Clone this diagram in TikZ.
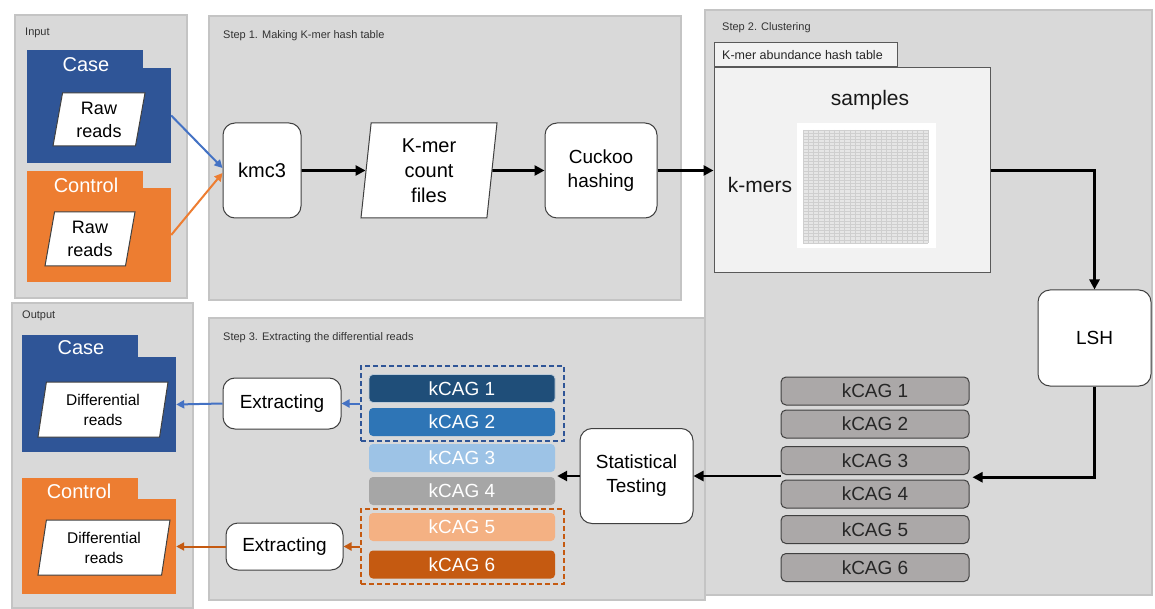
\documentclass[tikz,border=0pt]{standalone}
\usepackage{fontspec}
\setmainfont{Liberation Sans}
\usetikzlibrary{arrows.meta,shapes.geometric,calc}
\definecolor{panelgray}{HTML}{D9D9D9}
\definecolor{panelline}{HTML}{C4C4C4}
\definecolor{caseblue}{HTML}{2F5597}
\definecolor{ctrlorange}{HTML}{ED7D31}
\definecolor{arrblue}{HTML}{4472C4}
\definecolor{darkorange}{HTML}{C55A11}
\definecolor{cA}{HTML}{1F4E79}
\definecolor{cB}{HTML}{2E75B6}
\definecolor{cC}{HTML}{9DC3E6}
\definecolor{cD}{HTML}{A6A6A6}
\definecolor{cE}{HTML}{F4B183}
\definecolor{cF}{HTML}{C55A11}
\definecolor{kgray}{HTML}{ABA8A8}
\definecolor{tablefill}{HTML}{F2F2F2}
\definecolor{gridfill}{HTML}{E6E6E6}
\definecolor{gridline}{HTML}{CFCFCF}
\begin{document}
\begin{tikzpicture}[x=1pt,y=-1pt,
  panel/.style={fill=panelgray, draw=panelline, line width=2},
  plabel/.style={anchor=west, font=\fontsize{11}{13}\selectfont, text=black!80, inner sep=0},
  proc/.style={draw=black!75, fill=white, rounded corners=12, line width=1, align=center, inner sep=0, font=\fontsize{19}{24}\selectfont},
  para/.style={trapezium, trapezium left angle=75, trapezium right angle=105, trapezium stretches body, draw=black!75, fill=white, line width=1, inner sep=0, align=center},
  rawtxt/.style={font=\fontsize{18}{23}\selectfont},
  difftxt/.style={font=\fontsize{15.5}{20}\selectfont},
  foldertxt/.style={text=white, font=\fontsize{20}{24}\selectfont, inner sep=0},
  body/.style={inner sep=0, minimum width=#1},
  kcol/.style={fill=#1, rounded corners=4, minimum width=186, minimum height=28, inner sep=0, text=white, font=\fontsize{19}{22}\selectfont},
  kgr/.style={fill=kgray, draw=black!75, line width=1, rounded corners=5, minimum width=188, minimum height=28, inner sep=0, text=black!85, font=\fontsize{19}{22}\selectfont},
  blk/.style={line width=2.8, -{Triangle[length=10,width=10]}},
  thin arrow/.style={line width=2, -{Triangle[length=8,width=8]}, draw=#1},
]
\useasboundingbox (0,0) rectangle (1155,609);
\fill[white] (0,0) rectangle (1155,609);

% ---------- panels ----------
\draw[panel] (705,10) rectangle (1152,595);
\draw[panel] (15,15) rectangle (187,298);
\draw[panel] (209,16) rectangle (681,300);
\draw[panel] (12,303) rectangle (193,608);
\draw[panel] (209,318) rectangle (705,600);

\node[plabel] (linput) at (25,33) {Input};
\node[plabel] (loutput) at (22,316) {Output};
\node[plabel] (lstep1) at (223,36) {Step 1. Making K-mer hash table};
\node[plabel] (lstep2) at (722,28) {Step 2. Clustering};
\node[plabel] (lstep3) at (223,338) {Step 3. Extracting the differential reads};

% ---------- input folders ----------
\fill[caseblue] (27,50) rectangle (143,69);
\node[body=144, minimum height=95, fill=caseblue] (casein) at (99,115.5) {};
\node[foldertxt] (casetxt) at (86,65) {Case};
\node[para, minimum width=92, minimum height=53, rawtxt] (raw1) at (99,119.5) {Raw\\reads};

\fill[ctrlorange] (27,171) rectangle (143,189);
\node[body=144, minimum height=94, fill=ctrlorange] (ctrlin) at (99,235) {};
\node[foldertxt] (ctrltxt) at (86,185) {Control};
\node[para, minimum width=90, minimum height=54, rawtxt] (raw2) at (90,239) {Raw\\reads};

% ---------- step 1 ----------
\node[proc, minimum width=78, minimum height=95, font=\fontsize{20}{24}\selectfont] (kmc) at (262,170.5) {kmc3};
\node[para, trapezium left angle=81, trapezium right angle=99, minimum width=136, minimum height=95, font=\fontsize{20}{25}\selectfont] (kcf) at (429,170.5) {K-mer\\count\\files};
\node[proc, minimum width=112, minimum height=95] (cuckoo) at (601,170.5) {Cuckoo\\hashing};

\draw[thin arrow=arrblue] (casein.east) -- ([yshift=2.5pt]kmc.west);
\draw[thin arrow=ctrlorange] (ctrlin.east) -- ([yshift=-2.5pt]kmc.west);
\draw[blk] (kmc.east) -- (kcf.west);
\draw[blk] (kcf.east) -- (cuckoo.west);

% ---------- step 2 ----------
\node[draw=black!65, fill=tablefill, line width=1, minimum width=183, minimum height=24, inner sep=0] (tab) at (805.5,55) {};
\node[anchor=west, inner sep=0, font=\fontsize{12.5}{14}\selectfont, text=black!85] (tabtxt) at (722,55) {K-mer abundance hash table};
\node[draw=black!65, fill=tablefill, line width=1, minimum width=276, minimum height=205, inner sep=0] (table) at (852,170.5) {};
\fill[white] (797,123) rectangle (936,248);
\fill[gridfill] (803,130) rectangle (928,243);
\foreach \i in {0,...,24} \draw[gridline, line width=0.5] ({803+\i*125/24},130) -- ++(0,113);
\foreach \j in {0,...,36} \draw[gridline, line width=0.5] (803,{130+\j*113/36}) -- ++(125,0);
\node[font=\fontsize{21}{24}\selectfont, text=black!90] (samples) at (870,100) {samples};
\node[font=\fontsize{21}{24}\selectfont, text=black!90] (kmers) at (760,185) {k-mers};

\draw[blk] (cuckoo.east) -- (table.west);

\node[proc, minimum width=113, minimum height=96] (lsh) at (1094.5,338) {LSH};
\draw[blk] (table.east) -| (lsh.north);

\foreach \n/\y in {1/391,2/424,3/460.5,4/494,5/529.5,6/567.5}
  \node[kgr] (g\n) at (875,\y) {kCAG \n};

\coordinate (gin) at ($(g3.south east)!0.5!(g4.north east)$);
\draw[blk] (lsh.south) |- ([xshift=3pt]gin);

% ---------- step 3 ----------
\node[proc, minimum width=113, minimum height=95] (stat) at (636.5,476) {Statistical\\Testing};
\draw[blk] (stat.east -| g4.west) -- (stat.east);

\node[kcol=cA, draw=white!70!cA, line width=0.8] (c1) at (462,388.5) {kCAG 1};
\node[kcol=cB] (c2) at (462,422) {kCAG 2};
\node[kcol=cC] (c3) at (462,458) {kCAG 3};
\node[kcol=cD] (c4) at (462,491) {kCAG 4};
\node[kcol=cE] (c5) at (462,527) {kCAG 5};
\node[kcol=cF] (c6) at (462,564.5) {kCAG 6};
\draw[blk] (stat.west) -- ([xshift=2pt]stat.west -| c4.east);

\node[draw=caseblue, dashed, dash pattern=on 5pt off 3pt, line width=1.6, minimum width=203, minimum height=75, inner sep=0] (bluegrp) at (462.5,403.5) {};
\node[draw=darkorange, dashed, dash pattern=on 5pt off 3pt, line width=1.6, minimum width=203, minimum height=75, inner sep=0] (orangegrp) at (462.5,546.5) {};

\node[proc, minimum width=118, minimum height=51] (ext1) at (282,403.5) {Extracting};
\node[proc, minimum width=117, minimum height=47] (ext2) at (284.5,546.5) {Extracting};

% ---------- output folders ----------
\fill[caseblue] (22,335) rectangle (138,358);
\node[body=154, minimum height=95, fill=caseblue] (caseout) at (99,404.5) {};
\node[foldertxt] (caseouttxt) at (81,348) {Case};
\node[para, minimum width=130, minimum height=55, difftxt] (diff1) at (103,409.5) {Differential\\reads};

\fill[ctrlorange] (22,478) rectangle (138,500);
\node[body=154, minimum height=95, fill=ctrlorange] (ctrlout) at (99,546.5) {};
\node[foldertxt] (ctrlouttxt) at (79,491) {Control};
\node[para, minimum width=132, minimum height=55, difftxt] (diff2) at (104,547.5) {Differential\\reads};

\draw[thin arrow=arrblue] (bluegrp.west) -- (ext1.east);
\draw[thin arrow=arrblue] (ext1.west) -- (caseout.east);
\draw[thin arrow=darkorange] (orangegrp.west) -- (ext2.east);
\draw[thin arrow=darkorange] (ext2.west) -- (ctrlout.east);
\end{tikzpicture}
\end{document}
